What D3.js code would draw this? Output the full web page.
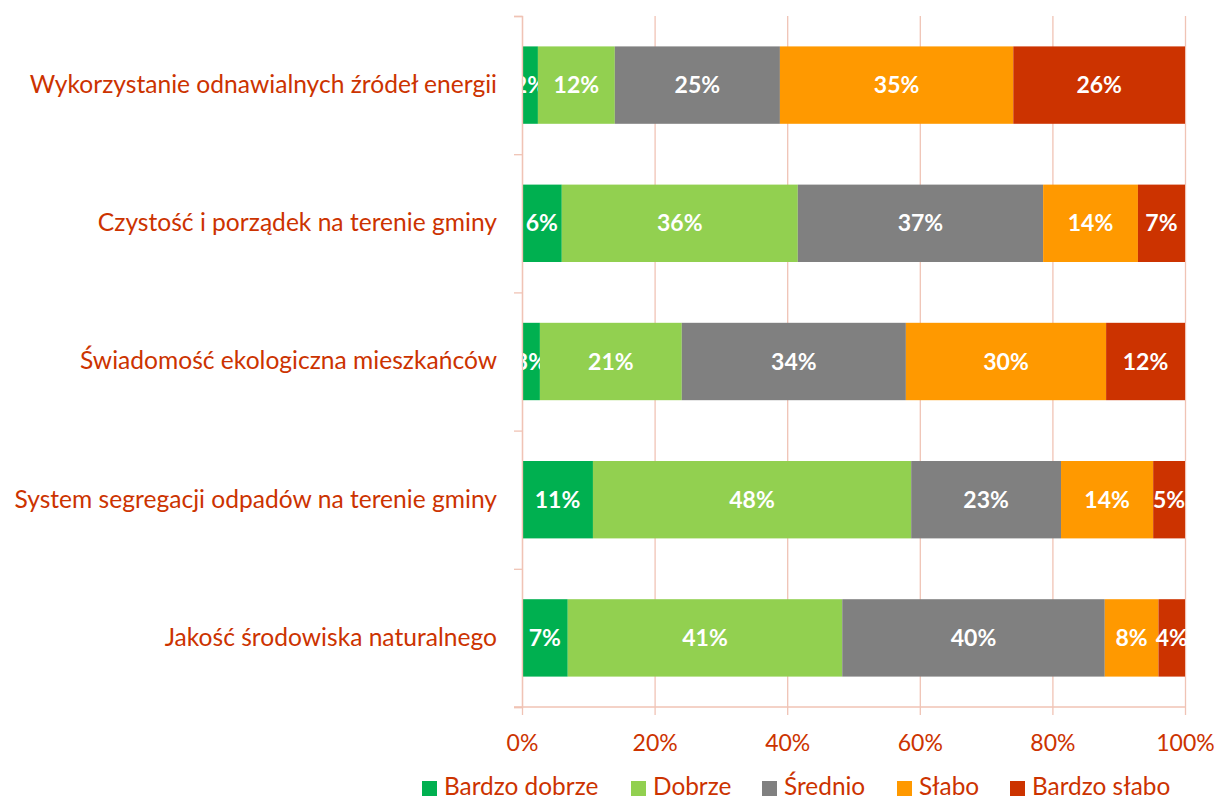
<!DOCTYPE html>
<html>
<head>
<meta charset="utf-8">
<script src="https://cdn.jsdelivr.net/npm/d3@7"></script>
<style>
  body { margin: 0; background: #fff; overflow: hidden; }
  text { font-family: Lato, "Open Sans", sans-serif; }
</style>
</head>
<body>
<div id="chart"></div>
<script>
// categories, top to bottom
const categories = [
  'Wykorzystanie odnawialnych źródeł energii',
  'Czystość i porządek na terenie gminy',
  'Świadomość ekologiczna mieszkańców',
  'System segregacji odpadów na terenie gminy',
  'Jakość środowiska naturalnego'
];
const seriesNames = ['Bardzo dobrze', 'Dobrze', 'Średnio', 'Słabo', 'Bardzo słabo'];
const seriesColors = ['#00B050', '#92D050', '#808080', '#FF9900', '#CC3300'];

// values per series, one per category (percent)
const bardzoDobrze = [2.4, 6.0, 2.7, 10.7, 6.9];
const dobrze = [11.6, 35.6, 21.4, 48.0, 41.4];
const srednio = [24.9, 37.0, 33.8, 22.6, 39.6];
const slabo = [35.2, 14.3, 30.2, 13.9, 8.1];
const bardzoSlabo = [25.9, 7.1, 11.9, 4.8, 4.0];
const xTicks = [0, 20, 40, 60, 80, 100];

const W = 1217, H = 796;
const margin = { top: 16, right: 32, bottom: 89, left: 522 };
const width = W - margin.left - margin.right;
const height = H - margin.top - margin.bottom;
const textColor = '#CC3300';
const gridColor = '#F0C3B5';

const rows = categories.map((c, i) => ({
  cat: c,
  'Bardzo dobrze': bardzoDobrze[i],
  'Dobrze': dobrze[i],
  'Średnio': srednio[i],
  'Słabo': slabo[i],
  'Bardzo słabo': bardzoSlabo[i]
}));

const stack = d3.stack().keys(seriesNames)(rows);

const x = d3.scaleLinear().domain([0, 100]).range([0, width]);
const y = d3.scaleBand().domain(categories).range([0, height]).paddingInner(0.44).paddingOuter(0.22);

const svg = d3.select('#chart').append('svg')
  .attr('width', W)
  .attr('height', H)
  .append('g')
  .attr('transform', `translate(${margin.left}, ${margin.top})`);

// vertical gridlines with ticks below the axis
svg.append('g')
  .call(d3.axisBottom(x).tickValues(xTicks).tickSize(height + 8).tickFormat(d => d + '%'))
  .call(g => g.select('.domain').remove())
  .call(g => g.selectAll('.tick line').attr('stroke', gridColor).attr('stroke-width', 1.3))
  .call(g => g.selectAll('.tick text')
    .attr('fill', textColor)
    .attr('font-size', 23)
    .attr('y', height + 28));

// bars
const layer = svg.selectAll('.layer')
  .data(stack)
  .enter().append('g')
  .attr('fill', (d, i) => seriesColors[i]);

layer.selectAll('rect')
  .data(d => d)
  .enter().append('rect')
  .attr('x', d => x(d[0]))
  .attr('y', d => y(d.data.cat))
  .attr('width', d => x(d[1]) - x(d[0]))
  .attr('height', y.bandwidth());

// data labels
layer.selectAll('text')
  .data(d => d)
  .enter().append('text')
  .attr('x', d => (x(d[0]) + x(d[1])) / 2)
  .attr('y', d => y(d.data.cat) + y.bandwidth() / 2)
  .attr('dy', '0.35em')
  .attr('text-anchor', 'middle')
  .attr('fill', '#fff')
  .attr('font-weight', 'bold')
  .attr('font-size', 23)
  .text(d => Math.round(d[1] - d[0]) + '%');

// left axis with category labels
const yLines = d3.scaleLinear().domain([0, categories.length]).range([0, height]);
svg.append('g')
  .call(d3.axisLeft(y).tickSize(0).tickPadding(25))
  .call(g => g.select('.domain').remove())
  .call(g => g.selectAll('.tick text').attr('fill', textColor).attr('font-size', 24.6));

svg.append('g')
  .call(d3.axisLeft(yLines).ticks(categories.length).tickSize(8).tickFormat(''))
  .call(g => g.select('.domain').attr('stroke', gridColor).attr('stroke-width', 1.3))
  .call(g => g.selectAll('.tick line').attr('stroke', gridColor).attr('stroke-width', 1.3));

// bottom axis line
svg.append('line')
  .attr('x1', -8).attr('x2', width)
  .attr('y1', height).attr('y2', height)
  .attr('stroke', gridColor).attr('stroke-width', 1.3);

// legend
const legendX = [422, 631, 762, 897, 1010];
const legend = d3.select('#chart svg').append('g');
seriesNames.forEach((name, i) => {
  const g = legend.append('g').attr('transform', `translate(${legendX[i]}, 781)`);
  g.append('rect').attr('x', 0).attr('y', 0).attr('width', 15).attr('height', 15).attr('fill', seriesColors[i]);
  g.append('text').attr('x', 22).attr('y', 14)
    .attr('fill', textColor).attr('font-size', 24.4).text(name);
});
</script>
</body>
</html>
